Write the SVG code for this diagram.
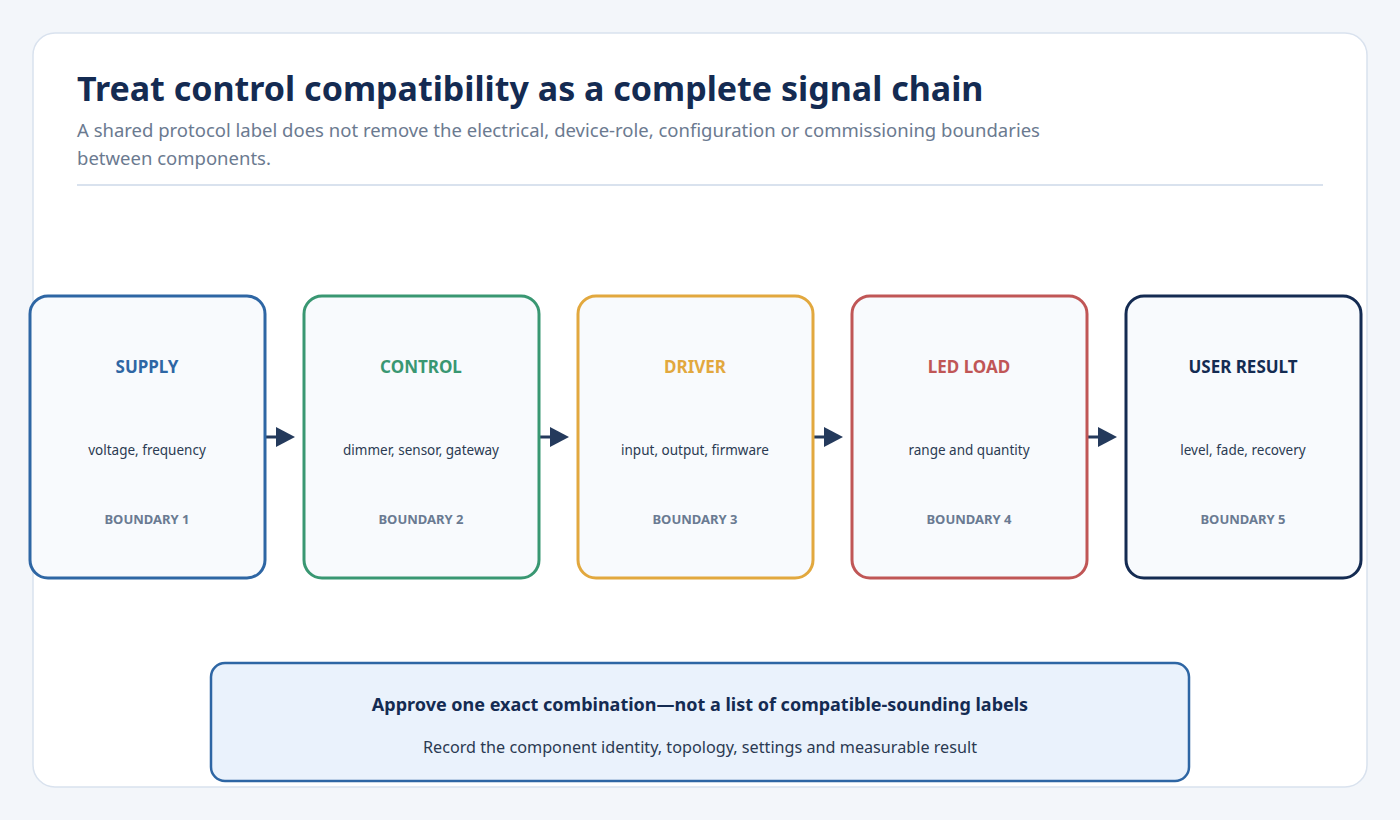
<svg xmlns="http://www.w3.org/2000/svg" width="1400" height="820" viewBox="0 0 1400 820">
<defs>
<style>
text{font-family:"Noto Sans","Open Sans",sans-serif}
.box{fill:#f8fafd;stroke-width:3}
.t{font-size:17px;font-weight:700;text-anchor:middle}
.d{font-size:13.5px;fill:#2b3a52;text-anchor:middle}
.b{font-size:13px;font-weight:700;fill:#6a7a92;text-anchor:middle}
.c{stroke:#243a5c;stroke-width:3;fill:none}
</style>
</defs>
<rect width="1400" height="820" fill="#f3f6fa"/>
<rect x="33" y="33" width="1334" height="754" rx="22" fill="#fff" stroke="#d9e2ee" stroke-width="1.5"/>
<text x="77" y="101" font-size="34" font-weight="700" fill="#142b52">Treat control compatibility as a complete signal chain</text>
<text x="77" y="137" font-size="18.5" fill="#6b7a90">A shared protocol label does not remove the electrical, device-role, configuration or commissioning boundaries</text>
<text x="77" y="165" font-size="18.5" fill="#6b7a90">between components.</text>
<line x1="77" y1="185" x2="1323" y2="185" stroke="#d9e2ee" stroke-width="2"/>
<g id="connectors">
<path class="c" d="M265,437 H283"/><path d="M276,427 L295,437 L276,447z" fill="#243a5c"/>
<path class="c" d="M539,437 H557"/><path d="M550,427 L569,437 L550,447z" fill="#243a5c"/>
<path class="c" d="M813,437 H831"/><path d="M824,427 L843,437 L824,447z" fill="#243a5c"/>
<path class="c" d="M1087,437 H1105"/><path d="M1098,427 L1117,437 L1098,447z" fill="#243a5c"/>
</g>
<g id="supply"><rect class="box" x="30" y="296" width="235" height="282" rx="18" stroke="#2e66a4"/>
<text class="t" x="147" y="373" fill="#2e66a4">SUPPLY</text><text class="d" x="147" y="455">voltage, frequency</text><text class="b" x="147" y="524">BOUNDARY 1</text></g>
<g id="control"><rect class="box" x="304" y="296" width="235" height="282" rx="18" stroke="#399772"/>
<text class="t" x="421" y="373" fill="#399772">CONTROL</text><text class="d" x="421" y="455">dimmer, sensor, gateway</text><text class="b" x="421" y="524">BOUNDARY 2</text></g>
<g id="driver"><rect class="box" x="578" y="296" width="235" height="282" rx="18" stroke="#e2a83e"/>
<text class="t" x="695" y="373" fill="#e2a83e">DRIVER</text><text class="d" x="695" y="455">input, output, firmware</text><text class="b" x="695" y="524">BOUNDARY 3</text></g>
<g id="ledload"><rect class="box" x="852" y="296" width="235" height="282" rx="18" stroke="#c05656"/>
<text class="t" x="969" y="373" fill="#c05656">LED LOAD</text><text class="d" x="969" y="455">range and quantity</text><text class="b" x="969" y="524">BOUNDARY 4</text></g>
<g id="userresult"><rect class="box" x="1126" y="296" width="235" height="282" rx="18" stroke="#142b52"/>
<text class="t" x="1243" y="373" fill="#142b52">USER RESULT</text><text class="d" x="1243" y="455">level, fade, recovery</text><text class="b" x="1243" y="524">BOUNDARY 5</text></g>
<g id="note"><rect x="211" y="663" width="978" height="118" rx="14" fill="#eaf2fc" stroke="#2e66a4" stroke-width="2.5"/>
<text x="700" y="711" font-size="18" font-weight="700" fill="#142b52" text-anchor="middle">Approve one exact combination—not a list of compatible-sounding labels</text>
<text x="700" y="753" font-size="16.2" fill="#2b3a52" text-anchor="middle">Record the component identity, topology, settings and measurable result</text></g>
</svg>
